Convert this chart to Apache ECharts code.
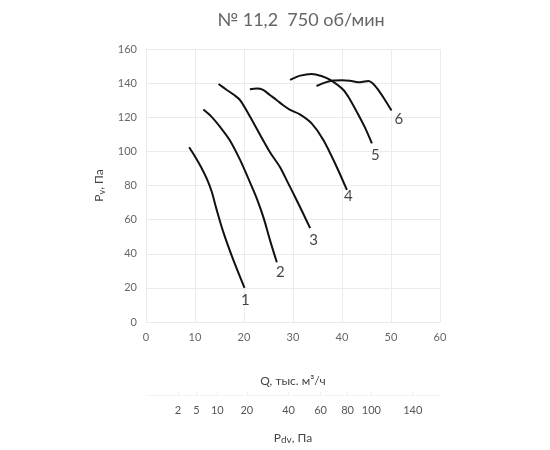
<!DOCTYPE html>
<html><head><meta charset="utf-8">
<script src="https://cdn.jsdelivr.net/npm/echarts@6/dist/echarts.min.js"></script>
<style>html,body{margin:0;padding:0;background:#fff}#c{width:550px;height:450px}</style>
</head><body><div id="c"></div>
<script>
const titleText = '№ 11,2  750 об/мин';
const xTicks = [0, 60, 10];
const yTicks = [0, 160, 20];
const curve1 = [[8.8,102.4],[10,97],[11.2,91],[12.4,84],[13.4,76.5],[14.4,66],[15.8,52.5],[17.8,36.5],[20.1,20]];
const curve2 = [[11.7,124.5],[13.3,120.5],[15.2,114],[17.1,106.5],[19.2,95],[20.9,84],[22.6,72.5],[24,61],[25.3,48],[26.7,35]];
const curve3 = [[14.8,139.5],[16.5,136],[18,133],[19.2,130],[21.3,120],[23.3,109.6],[25.3,99.5],[27.3,91],[28.9,82],[30.4,73.4],[32,64],[33.5,55]];
const curve4 = [[21.2,136.4],[22.6,136.8],[23.9,136],[25.3,133],[26.7,130],[28,127],[29.4,124.3],[31.4,121.7],[33.8,116.4],[36.2,106.7],[38.9,91],[41,77.4]];
const curve5 = [[29.4,141.9],[31.5,144.4],[33.8,145.4],[35.8,144.2],[37.6,141.9],[40.3,136],[41.7,130],[43,123.3],[44.6,114.5],[46.1,104.7]];
const curve6 = [[34.8,138.3],[36.5,140.3],[38.2,141.5],[40,141.7],[41.6,141.4],[43.7,140.5],[45.4,141.3],[46.3,139.8],[47.4,136],[48.8,130],[50.1,124]];
const curveLabels = [[20.3,13,'1'],[27.4,29,'2'],[34.2,48,'3'],[41.3,74,'4'],[46.8,97.5,'5'],[51.6,119,'6']];
const pdvTicks = [2,5,10,20,40,60,80,100,140];
const pdvScale = 4.6; // Q (thous. m3/h) per sqrt(Pa) for dynamic pressure scale

const pdvPos = pdvTicks.map(p => pdvScale * Math.sqrt(p));
const posToPdv = {};
pdvPos.forEach((q, i) => { posToPdv[q.toFixed(4)] = pdvTicks[i]; });

const gridColor = '#ebebeb';
const txt = '#666';
const font = 'Lato, "Open Sans", sans-serif';

const curves = [curve1, curve2, curve3, curve4, curve5, curve6];
const series = curves.map(d => ({
  type: 'line', data: d, smooth: 0.3, showSymbol: false, xAxisIndex: 0, yAxisIndex: 0,
  lineStyle: {color: '#111', width: 2}, silent: true
}));
series.push({
  type: 'scatter', data: curveLabels, symbolSize: 0, xAxisIndex: 0, yAxisIndex: 0,
  label: {show: true, position: 'inside', formatter: p => p.data[2], color: '#111', fontSize: 15, fontFamily: font}
});

const chart = echarts.init(document.getElementById('c'), null, {renderer: 'canvas'});
chart.setOption({
  animation: false,
  backgroundColor: '#fff',
  title: {text: titleText, left: 296, top: 6, textAlign: 'center',
    textStyle: {fontSize: 18, fontWeight: 'normal', color: '#666', fontFamily: font}},
  grid: [
    {left: 146, right: 110, top: 49, bottom: 128},
    {left: 146, right: 110, top: 395, height: 0}
  ],
  xAxis: [
    {gridIndex: 0, type: 'value', min: xTicks[0], max: xTicks[1], interval: xTicks[2],
     name: 'Q, тыс. м³/ч', nameLocation: 'middle', nameGap: 53,
     nameTextStyle: {color: '#444', fontSize: 12, fontFamily: font},
     axisLine: {show: true, lineStyle: {color: gridColor}}, axisTick: {show: false},
     axisLabel: {color: txt, fontSize: 11, margin: 10, fontFamily: font},
     splitLine: {show: true, lineStyle: {color: gridColor}}},
    {gridIndex: 1, type: 'value', min: xTicks[0], max: xTicks[1],
     name: '{a|P}{b|dv}{a|, Па}', nameLocation: 'middle', nameGap: 37,
     nameTextStyle: {rich: {a: {fontSize: 12, color: '#444', fontFamily: font}, b: {fontSize: 10, color: '#444', fontFamily: font, padding: [3,0,0,0]}}},
     axisLine: {show: true, lineStyle: {color: '#f3f3f3'}},
     axisTick: {show: true, customValues: pdvPos, length: 3, inside: true, lineStyle: {color: '#ececec'}},
     axisLabel: {customValues: pdvPos, color: '#555', fontSize: 11, margin: 10, fontFamily: font,
       formatter: v => { const k = v.toFixed(4); return posToPdv[k] !== undefined ? String(posToPdv[k]) : ''; }},
     splitLine: {show: false}}
  ],
  yAxis: [
    {gridIndex: 0, type: 'value', min: yTicks[0], max: yTicks[1], interval: yTicks[2],
     name: '{a|P}{b|v}{a|, Па}', nameLocation: 'middle', nameGap: 39, nameRotate: 90,
     nameTextStyle: {rich: {a: {fontSize: 12, color: '#444', fontFamily: font}, b: {fontSize: 9, color: '#444', fontFamily: font, padding: [6,0,0,0]}}},
     axisLine: {show: true, lineStyle: {color: gridColor}}, axisTick: {show: false},
     axisLabel: {color: txt, fontSize: 11, margin: 9, fontFamily: font},
     splitLine: {show: true, lineStyle: {color: gridColor}}},
    {gridIndex: 1, type: 'value', show: false}
  ],
  series: series
});
</script></body></html>
